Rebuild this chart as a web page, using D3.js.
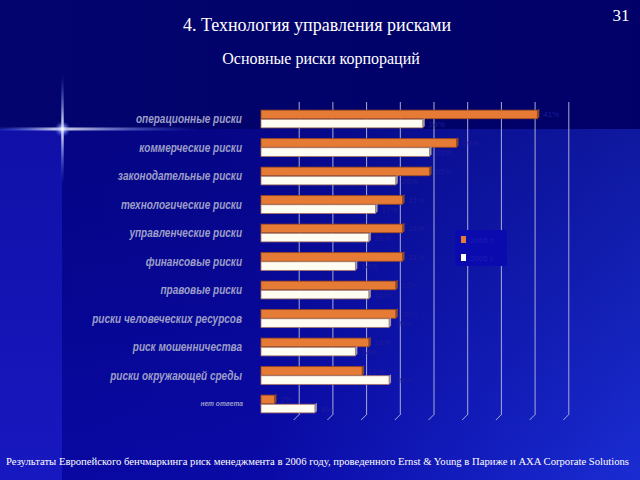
<!DOCTYPE html>
<html><head><meta charset="utf-8">
<script src="https://cdn.jsdelivr.net/npm/d3@7"></script>
<style>html,body{margin:0;padding:0;background:#06067a;}svg{display:block;}</style>
</head><body>
<script>
const categories = ["операционные риски","коммерческие риски","законодательные риски","технологические риски","управленческие риски","финансовые риски","правовые риски","риски человеческих ресурсов","риск мошенничества","риски окружающей среды","нет ответа"];
const series2006 = [41, 29, 25, 21, 21, 21, 20, 20, 16, 15, 2];
const series2005 = [24, 25, 20, 17, 16, 14, 16, 19, 14, 19, 8];
const seriesNames = ["2006 г.", "2005 г."];
const gridTicks = [5,10,15,20,25,30,35,40,45];

const W = 640, H = 480;
const svg = d3.select("body").append("svg").attr("width", W).attr("height", H);
const defs = svg.append("defs");

// background
const gLow = defs.append("linearGradient").attr("id","gLow").attr("x1","0").attr("x2","1").attr("y1","0").attr("y2","0");
gLow.append("stop").attr("offset","0").attr("stop-color","#0808a0");
gLow.append("stop").attr("offset","0.4").attr("stop-color","#0a0aa6");
gLow.append("stop").attr("offset","1").attr("stop-color","#1a2cd2");
const gLowV = defs.append("linearGradient").attr("id","gLowV").attr("x1","0").attr("x2","0").attr("y1","0").attr("y2","1");
gLowV.append("stop").attr("offset","0").attr("stop-color","#000060").attr("stop-opacity",0.45);
gLowV.append("stop").attr("offset","1").attr("stop-color","#000060").attr("stop-opacity",0);
const gLeft = defs.append("linearGradient").attr("id","gLeft").attr("x1","0").attr("x2","0").attr("y1","0").attr("y2","1");
gLeft.append("stop").attr("offset","0").attr("stop-color","#1010a8");
gLeft.append("stop").attr("offset","1").attr("stop-color","#1818c0");
const gTop = defs.append("linearGradient").attr("id","gTop").attr("x1","0").attr("x2","1").attr("y1","0").attr("y2","0");
gTop.append("stop").attr("offset","0").attr("stop-color","#04046e");
gTop.append("stop").attr("offset","1").attr("stop-color","#000068");

svg.append("rect").attr("width",W).attr("height",H).attr("fill","url(#gLow)");
svg.append("rect").attr("y",129).attr("width",W).attr("height",H-129).attr("fill","url(#gLowV)");
svg.append("rect").attr("x",0).attr("y",129).attr("width",62).attr("height",H-129).attr("fill","url(#gLeft)");
svg.append("rect").attr("width",W).attr("height",129).attr("fill","url(#gTop)");

// star flare
const gH = defs.append("linearGradient").attr("id","gH").attr("x1","0").attr("x2","1");
gH.append("stop").attr("offset","0").attr("stop-color","#4a6cff").attr("stop-opacity",0.2);
gH.append("stop").attr("offset","0.3").attr("stop-color","#ffffff").attr("stop-opacity",1);
gH.append("stop").attr("offset","1").attr("stop-color","#4a6cff").attr("stop-opacity",0);
svg.append("rect").attr("x",0).attr("y",127.5).attr("width",200).attr("height",3).attr("fill","url(#gH)").attr("opacity",0.85);
const gV = defs.append("linearGradient").attr("id","gV").attr("x1","0").attr("x2","0").attr("y1","0").attr("y2","1");
gV.append("stop").attr("offset","0").attr("stop-color","#4a6cff").attr("stop-opacity",0);
gV.append("stop").attr("offset","0.5").attr("stop-color","#ffffff").attr("stop-opacity",1);
gV.append("stop").attr("offset","1").attr("stop-color","#4a6cff").attr("stop-opacity",0);
svg.append("rect").attr("x",61.3).attr("y",75).attr("width",2.4).attr("height",108).attr("fill","url(#gV)");
const rg = defs.append("radialGradient").attr("id","rg");
rg.append("stop").attr("offset","0").attr("stop-color","#ffffff").attr("stop-opacity",1);
rg.append("stop").attr("offset","1").attr("stop-color","#5070ff").attr("stop-opacity",0);
svg.append("circle").attr("cx",62.5).attr("cy",129).attr("r",8).attr("fill","url(#rg)");

// titles
svg.append("text").attr("x",317).attr("y",31).attr("text-anchor","middle")
  .attr("font-family","Liberation Serif, Times New Roman, serif").attr("font-size",18).attr("fill","#ffffff")
  .text("4. Технология управления рисками");
svg.append("text").attr("x",321).attr("y",64).attr("text-anchor","middle")
  .attr("font-family","Liberation Serif, Times New Roman, serif").attr("font-size",16).attr("fill","#ffffff")
  .text("Основные риски корпораций");
svg.append("text").attr("x",621).attr("y",21).attr("text-anchor","middle")
  .attr("font-family","Liberation Serif, Times New Roman, serif").attr("font-size",17).attr("fill","#ffffff")
  .text("31");
svg.append("text").attr("x",6).attr("y",465)
  .attr("font-family","Liberation Serif, Times New Roman, serif").attr("font-size",10).attr("fill","#ffffff")
  .attr("textLength",623).attr("lengthAdjust","spacingAndGlyphs")
  .text("Результаты Европейского бенчмаркинга риск менеджмента в 2006 году, проведенного Ernst & Young в Париже и AXA Corporate Solutions");

// scales
const x = d3.scaleLinear().domain([0,45]).range([261, 564.3]);
const y = d3.scaleBand().domain(categories).range([105,418.5]).paddingInner(0.36).paddingOuter(0.18);
const ySub = d3.scaleBand().domain(seriesNames).range([0,y.bandwidth()]);
const dx = 4;

// gridlines (back wall) via axis
const gridG = svg.append("g").attr("transform",`translate(${dx},0)`);
const gridAxis = d3.axisBottom(x).tickValues(gridTicks).tickSize(-313).tickFormat("");
gridG.append("g").attr("transform","translate(0,415)").call(gridAxis)
  .call(g=>g.select(".domain").remove())
  .call(g=>g.selectAll(".tick line").attr("stroke","#a8acd8").attr("stroke-width",1));
// floor slants
svg.append("g").selectAll("line").data(gridTicks).join("line")
  .attr("x1",d=>x(d)+dx).attr("y1",415).attr("x2",d=>x(d)+dx-5).attr("y2",420)
  .attr("stroke","#a8acd8").attr("stroke-width",1);

// legend box (occludes grid)
svg.append("rect").attr("x",455).attr("y",230).attr("width",52).attr("height",36).attr("fill","#0a0aae");
const legend = svg.append("g");
const legColors = ["#e57b35","#ffffff"];
seriesNames.forEach((s,i)=>{
  legend.append("rect").attr("x",461).attr("y",236+i*18).attr("width",5).attr("height",7).attr("fill",legColors[i]);
  legend.append("text").attr("x",470).attr("y",243+i*18).attr("font-family","Liberation Sans, Arial, sans-serif")
    .attr("font-size",8).attr("fill","#1e1eb4").text(s);
});

// bars
const seriesData = [series2006, series2005];
const fills = ["#e57b35","#fffcf2"];
const strokes = ["#9c4a1c","#b07a60"];
const sides = ["#8a4a2a","#9a9aa8"];
const barsG = svg.append("g");
categories.forEach((c,ci)=>{
  seriesNames.forEach((s,si)=>{
    const v = seriesData[si][ci];
    const y0 = y(c)+ySub(s);
    const h = ySub.bandwidth()-0.5;
    const x1 = x(v);
    barsG.append("polygon")
      .attr("points",`${x1},${y0+h} ${x1},${y0} ${x1+2},${y0-1.5} ${x1+2},${y0+h-1.5}`)
      .attr("fill",sides[si]);
    barsG.append("rect").attr("x",x(0)).attr("y",y0).attr("width",x1-x(0)).attr("height",h)
      .attr("fill",fills[si]).attr("stroke",strokes[si]).attr("stroke-width",0.8);
    barsG.append("text").attr("x",x1+6).attr("y",y0+h/2+3)
      .attr("font-family","Liberation Sans, Arial, sans-serif").attr("font-size",8)
      .attr("fill","#1c1c9c").text(v+"%");
  });
});

// category labels (condensed italic)
const labG = svg.append("g");
categories.forEach((c,ci)=>{
  const last = ci===categories.length-1;
  const t = labG.append("text").attr("x", last?243:242).attr("y", y(c)+y.bandwidth()/2+(last?2:4))
    .attr("text-anchor","end")
    .attr("font-family","Liberation Sans, Arial, sans-serif")
    .attr("font-style","italic").attr("font-weight", last?"bold":"bold")
    .attr("font-size", last?7:12.5).attr("fill","#9c9ec6")
    .attr("stroke","none")
    .text(c);
  const len = t.node().getComputedTextLength();
  t.attr("textLength", len*(last?0.95:0.8)).attr("lengthAdjust","spacingAndGlyphs");
});
</script>
</body></html>
